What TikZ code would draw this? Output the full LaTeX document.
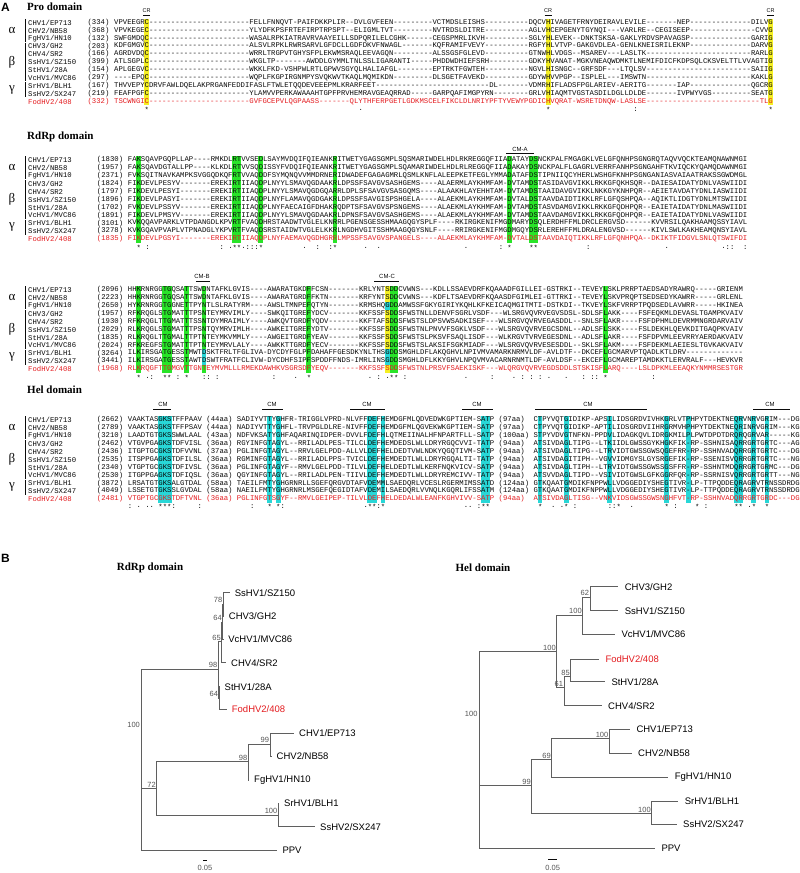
\documentclass[tikz,border=0pt]{standalone}
\usepackage{fontspec}
\setmainfont{Liberation Serif}
\setsansfont{Liberation Sans}
\setmonofont{Liberation Mono}
\ExplSyntaxOn
\cs_new:Npn \dsh #1 { \prg_replicate:nn {#1} {-} }
\ExplSyntaxOff
\definecolor{hlg}{RGB}{40,228,40}
\definecolor{hly}{RGB}{245,240,35}
\definecolor{hlc}{RGB}{40,215,215}
\definecolor{fred}{RGB}{228,28,32}
\definecolor{stx}{RGB}{10,10,10}
\definecolor{trg}{RGB}{95,95,95}
\definecolor{bsg}{RGB}{85,85,85}
\newcommand\seqf{\ttfamily\fontsize{7.27}{8}\selectfont}
\newcommand\chw{4.363}
\newcommand\hlbox[6]{\fill[#1] ({#2+#3*\chw-0.2},#5) rectangle ({#2+(#3+#4)*\chw+0.2},#6);}
\newcommand\arow[7]{%
  \node[seq,text=#7] (#1n) at (28,#2) {#3};
  \node[seqnum,text=#7] (#1k) at ({#5-\chw},#2) {(#4)};
  \node[seq,text=#7] (#1s) at (#5,#2) {#6};}
\newcommand\grk[2]{%
  \node[grk] (#1al) at (12,{#2+7.9}) {α};
  \node[grk] (#1be) at (12,{#2+39.5}) {β};
  \node[grk] (#1ga) at (12,{#2+67.15}) {γ};
  \draw[bar] (25,{#2-3.6}) -- (25,{#2+19.4});
  \draw[bar] (25,{#2+20.1}) -- (25,{#2+58.9});
  \draw[bar] (25,{#2+59.6}) -- (25,{#2+74.7});}
\begin{document}
\begin{tikzpicture}[x=1pt,y=-1pt,
 seq/.style={anchor=west,inner sep=0pt,font=\seqf,text=stx},
 seqnum/.style={anchor=east,inner sep=0pt,font=\seqf,text=stx},
 head/.style={inner sep=0pt,font=\bfseries\fontsize{11}{13}\selectfont},
 panel/.style={anchor=west,inner sep=0pt,font=\sffamily\bfseries\fontsize{12}{14}\selectfont},
 grk/.style={inner sep=0pt,font=\fontsize{13}{13}\selectfont,text=stx},
 bar/.style={draw=stx,line width=0.6pt},
 mot/.style={inner sep=0pt,font=\sffamily\fontsize{6}{7}\selectfont,text=stx},
 oline/.style={draw=stx,line width=0.6pt},
 tree/.style={draw=trg,line width=0.8pt},
 leaf/.style={anchor=west,inner sep=0pt,font=\sffamily\fontsize{9.5}{11}\selectfont,xshift=5pt},
 leafh/.style={anchor=west,inner sep=0pt,font=\sffamily\fontsize{9.5}{11}\selectfont,xshift=6.3pt},
 bs/.style={anchor=south east,inner sep=0.8pt,font=\sffamily\fontsize{7.5}{9}\selectfont,text=bsg}]
\fill[white] (0,0) rectangle (800,873);
\useasboundingbox (0,0) rectangle (800,873);

% ---------------- Panel A ----------------
\node[panel] (pA) at (1,7) {A};
\node[head,anchor=west] (hPro) at (27,7) {Pro domain};
\node[head,anchor=west] (hRd1) at (27,137) {RdRp domain};
\node[head,anchor=west] (hHel) at (27,390) {Hel domain};

% highlights: Pro
\foreach \cc in {7,99,150} {\hlbox{hly}{114}{\cc}{1}{18.55}{105.45}}
% highlights: RdRp 1
\foreach \cc/\nn in {2/1,24/2,30/1,47/1,87/1,92/2} {\hlbox{hlg}{127.7}{\cc}{\nn}{156.05}{242.95}}
% highlights: RdRp 2
\foreach \cc/\nn in {2/1,8/2,13/1,41/1,60/2,109/1} {\hlbox{hlg}{127.7}{\cc}{\nn}{286.05}{372.95}}
\hlbox{hlg}{127.7}{17}{1}{286.05}{349.25}
\hlbox{hlc}{127.7}{17}{1}{349.25}{365.05}
\hlbox{hlg}{127.7}{17}{1}{365.05}{372.95}
\hlbox{hly}{127.7}{59}{1}{286.05}{301.85}
\hlbox{hlc}{127.7}{59}{1}{301.85}{309.75}
\hlbox{hly}{127.7}{59}{1}{309.75}{349.25}
\hlbox{hlc}{127.7}{59}{1}{349.25}{365.05}
\hlbox{hly}{127.7}{59}{1}{365.05}{372.95}
% highlights: Hel
\foreach \cc/\nn in {7/3,32/1,34/1,55/2,58/1,81/2,94/1,100/1,110/1,123/1,128/1,139/2,143/1,146/1} {\hlbox{hlc}{127.7}{\cc}{\nn}{416.05}{502.95}}

% motif labels
\node[mot,font=\sffamily\fontsize{5.5}{6}\selectfont] (cr1) at (146.7,11) {CR};
\draw[oline] (143.3,15) -- (150.3,15);
\node[mot,font=\sffamily\fontsize{5.5}{6}\selectfont] (cr2) at (548.1,11) {CR};
\draw[oline] (544.7,15) -- (551.7,15);
\node[mot,font=\sffamily\fontsize{5.5}{6}\selectfont] (cr3) at (770.6,11) {CR};
\draw[oline] (767.2,15) -- (774.2,15);
\node[mot] (cma) at (520,149) {CM-A};
\draw[oline] (506,153) -- (534,153);
\node[mot] (cmb) at (202,276) {CM-B};
\draw[oline] (196,281) -- (210,281);
\node[mot] (cmc) at (387,276) {CM-C};
\draw[oline] (374,281) -- (399,281);
\node[mot] (cm1) at (163,404) {CM};
\draw[oline] (153,409) -- (171,409);
\node[mot] (cm2) at (272,404) {CM};
\draw[oline] (262,409) -- (283,409);
\node[mot] (cm3) at (367,404) {CM};
\draw[oline] (350,409) -- (385,409);
\node[mot] (cm4) at (477,404) {CM};
\draw[oline] (462,409) -- (493,409);
\node[mot] (cm5) at (588,404) {CM};
\draw[oline] (535,409) -- (647,409);
\node[mot] (cm6) at (770,404) {CM};
\draw[oline] (753,409) -- (790,409);

% greek group labels
\grk{gp}{22.5}
\grk{gr}{160}
\grk{gs}{290}
\grk{gh}{420}

% ---- Pro domain rows
\arow{p0}{22.5}{CHV1/EP713}{334}{114}{VPVEEGRC\dsh{23}FELLFNNQVT-PAIFDKKPLIR--DVLGVFEEN\dsh{9}VCTMDSLEISHS\dsh{10}DQCVHIVAGETFRNYDEIRAVLEVILE\dsh{7}NEP\dsh{14}DILVG}{stx}
\arow{p1}{30.4}{CHV2/NB58}{368}{114}{VPVKEGEC\dsh{23}YLYDFKPSFRTEFIRPTRPSPT--ELIGMLTVT\dsh{9}NVTRDSLDITRE\dsh{10}AGLVHCEPGENYTGYNQI---VARLRE--CEGISEEP\dsh{15}CVVG}{stx}
\arow{p2}{38.3}{FgHV1/HN10}{132}{114}{SWFGMDQC\dsh{23}WASALRPKIATRAVRVAAYEILLSDPQRILELCGHK\dsh{6}CEGSPMRLIKVH\dsh{10}SGLYHLEVEK--DNKTSKSA-GAKLYRDVSPAVAGSP\dsh{14}GARIG}{stx}
\arow{p3}{46.2}{CHV3/GH2}{203}{114}{KDFGMGVC\dsh{23}ALSVLRPKLRWRSARVLGFDCLLGDFDKVFNWAGL\dsh{7}KQFRAMIFVEVY\dsh{10}RGFYHLVTVP-GAKGVDLEA-GENLKNEISRILEKNP\dsh{14}DARVG}{stx}
\arow{p4}{54.1}{CHV4/SR2}{166}{114}{AGRDVDQC\dsh{23}WRRLTRGPVTGHYSFPLEKWMSRAQLEEVAGQN\dsh{9}ALSSGSFGLEVD\dsh{10}GTNWHLVDGS--MSAREV---LASLTK\dsh{24}RARLG}{stx}
\arow{p5}{62.0}{SsHV1/SZ150}{399}{114}{ATLSGPLC\dsh{23}WKGLTP\dsh{7}AWDDLGYMMLTNLSSLIGARANTI\dsh{5}PHDDWDHIEFSRH\dsh{9}GDKYHVANAT-MGKVNEAQWDMKTLNEMIFDICFKDPSQLCKSVELTTLVVAGTIG}{stx}
\arow{p6}{69.9}{StHV1/28A}{154}{114}{APLGEGVC\dsh{23}WKKLFKD-VSHPWLRTLGPWVSGYQLHALIAFGL\dsh{8}EPTRKTFGWTEH\dsh{10}NGVLHISNGC--GRFSDF---LTQLSV\dsh{24}SAIIG}{stx}
\arow{p7}{77.8}{VcHV1/MVC86}{297}{114}{----EPQC\dsh{23}WQPLFKGPIRGNMPYSVQKWVTKAQLMQMIKDN\dsh{9}DLSGETFAVEKD\dsh{10}GDYWHVVPGP--ISPLEL---IMSWTN\dsh{24}KAKLG}{stx}
\arow{p8}{85.7}{SrHV1/BLH1}{167}{114}{THVVEPYCDRVFAWLDQELAKPRGANFEDDIFASLFTWLETQQDEVEEEPMLKRARFEET\dsh{26}DL\dsh{7}VDMRHIFLADSFPGLARIEV-AERITG\dsh{7}IAP\dsh{14}QGCRG}{stx}
\arow{p9}{93.6}{SsHV2/SX247}{219}{114}{FEAFPGFC\dsh{23}YLAMVVPERKAWAAAHTGPFPRVHEMRAVGEAQRRAD\dsh{5}GARPQAFIMGPYRN\dsh{8}GRLVHIAQMTVGSTASDILDGLLDLDE\dsh{7}IVPWYVGS\dsh{9}SEATG}{stx}
\arow{p10}{101.5}{FodHV2/408}{332}{114}{TSCWNGIC\dsh{23}GVFGCEPVLQGPAASS\dsh{7}QLYTHFERPGETLGDKMSCELFIKCLDLNRIYPFTYVEWYPGDICHVQRAT-WSRETDNQW-LASLSE\dsh{26}TLG}{fred}
\foreach \ii/\cc in {7/*,56/.,99/*,119/:,150/*} {\node[seq] (pc\ii) at ({114+\ii*\chw},110) {\cc};}

% ---- RdRp block 1
\arow{r0}{160}{CHV1/EP713}{1830}{127.7}{FAKSQAVPGQPLLAP----RMKDLRTVVSEDLSAYMVDQIFQIEANKRITWETYGAGSGMPLSQSMARIWDELHDLRKREGGQFIIADATAYDSNCKPALFMGAGKLVELGFQNHPSGNGRQTAQVVQCKTEAMQNAWNMGI}{stx}
\arow{r1}{167.9}{CHV2/NB58}{1957}{127.7}{FAKSQAVDGTALLPP----KLKDLRTVVSQDISSYFVDQIFQIEANKRITWETYGAGSGMPLSQAMARIWDELHDLRLREGGQFIIADAKAYDSNCKPALFLGAGRLVERRFANHPSGNGAHFTKVIQCKYQAMQDAWNMGI}{stx}
\arow{r2}{175.8}{FgHV1/HN10}{2371}{127.7}{FVKSQITNAVKAMPKSVGGQDKQFRTVVAQDDFSYMQNQVVMMDRNERIDWADEFGAGAGMRLQSMLKNFLALEEPKETFEGLYMMADATAFDSTIPNIIQCYHERLWSHGFKNHPSGNGANIASVAIAATRAKSSGWDMGL}{stx}
\arow{r3}{183.7}{CHV3/GH2}{1824}{127.7}{FIKDEVLPESYV-------EREKIRTIIAQDPLNYYLSMAVQGDAAKRLDPSSFSAVGVSASHGEMS----ALAERMLAYKHMFAM-DVTAMDSTASIDAVGVIKKLRKKGFQKHSQR--DAIESAIDATYDNLVASWIIDI}{stx}
\arow{r4}{191.6}{CHV4/SR2}{1797}{127.7}{FIKDEVLPESYI-------EREKIRTIIAQDPLNYYLSMAVQGDGQARRLDPLSFSAVGVSASGQMS----ALAAKHLAYEHHTAM-DVTAMDSTAAIDAVGVIKKLNKKGYKNHPQR--AEIETAVDATYDNLIASWIIDI}{stx}
\arow{r5}{199.5}{SsHV1/SZ150}{1896}{127.7}{FIKDEVLPASYI-------EREKIRTIIAQDPLNYFLAMAVQGDGAKRLDPSSFSAVGISPSHGELA----ALAEKMLAYKHMFAM-DVTALDSTAAVDAIDTIKKLRFLGFQSHPQA--AQIKTLIDGTYDNLMTSWIIDI}{stx}
\arow{r6}{207.4}{StHV1/28A}{1702}{127.7}{FVKDEVLPSSYV-------EREKIRTIIAQDPLNYFAECAIGFDHAKRQDPTSFSAVGVSPSNGEMS----ALAEKMLAYKHMFAM-DVTAMDSTASVDAMGVIKKLRKKGFQDHPQR--EAIETAIDATYDNLMASWIIDI}{stx}
\arow{r7}{215.3}{VcHV1/MVC86}{1891}{127.7}{FIKDEVLPMSYV-------EREKIRTIIAQDPLNYYLSMAVQGDAAKRLDPNSFSAVGVSASHGEMS----ALAEKMLAYKHMFAM-DVTAMDSTAAVDAMGVIKKLRKKGFQDHPQR--EAIETAIDATYDNLVASWIIDI}{stx}
\arow{r8}{223.2}{SrHV1/BLH1}{3101}{127.7}{KVKQQAVPARKLVTPDANGDLKPVRTFVAQDHRSTAADWTVGLELKNRRLPGENSGESSHMAAGQGYSPLF----RKIRGKENIFMGDMARYDSQLERDHFFMLDRCLERGVSD------KVVRSILQAKHAAMQSSYIAVL}{stx}
\arow{r9}{231.1}{SsHV2/SX247}{3278}{127.7}{KVKGQAVPVAPLVTPNADGLYKPVRTFVAQDSRSTAIDWTVGLELKKRLNGDHVGITSSHMAAGQGYSNLF----RRIRGKENIFMGDMGQYDSRLEREHFFMLDRALENGVSD------KIVLSWLKAKHEAMQNSYIAVL}{stx}
\arow{r10}{239}{FodHV2/408}{1835}{127.7}{FIKDEVLPGSYI-------EREKIRTIIAQDPLNYFAEMAVQGDHGRRLMPSSFSAVGVSPANGELS----ALAEKMLAYKHMFAM-DVTALDSTAAVDAIQTIKKLRFLGFQNHPQA--DKIKTFIDGVLSNLQTSWIFDI}{fred}
\foreach \ii/\cc in {2/*,4/:,21/:,23/.,24/*,25/*,26/.,27/:,28/:,29/:,30/*,40/.,43/:,46/:,47/*,54/.,57/.,77/.,85/:,87/*,92/*,93/*,105/:,123/.,136/.,137/:,138/:,141/:} {\node[seq] (rc\ii) at ({127.7+\ii*\chw},248) {\cc};}

% ---- RdRp block 2
\arow{s0}{290}{CHV1/EP713}{2096}{127.7}{HHKRNRGGTGQSATTSWDNTAFKLGVIS----AWARATGKDFFCSN\dsh{7}KRLYNTSDDCVWNS---KDLLSSAEVDRFKQAAADFGILLEI-GSTRKI--TEVEYLSKLPRRPTAEDSADYRAWRQ-----GRIENM}{stx}
\arow{s1}{297.9}{CHV2/NB58}{2223}{127.7}{HHKRNRGGTGQSATTSWDNTAFKLGVIS----AWARATGRDFFKTN\dsh{7}KRFYNTSDDCVWNS---KDFLTSAEVDRFKQAASDFGIMLEI-GTTRKI--TEVEYLSKVPRQPTSEDSEDYKAWRR-----GRLENL}{stx}
\arow{s2}{305.8}{FgHV1/HN10}{2650}{127.7}{HYKRNRGGTGGNETTPYNTLSLRATYRM----AWSLTMNPEFQTYN\dsh{7}KRMSHQGDDAMWSSFGKYGIRIYKQHLKFKEICAQMGITMTI-DSTKDI--TKVEYLSKFVRRPTPQDSEDLAVWRR-----HKINEA}{stx}
\arow{s3}{313.7}{CHV3/GH2}{1957}{127.7}{RFKRQGLSTGMATTTPSNTEYMRVIMLY----SWKQITGREFYDCV\dsh{7}KKFSSFSDDSFWSTNLLDENVFSGRLVSDF---WLSRGVQVRVEGVSDSL-SDLSFLAKK----FSFEQKMLDEVASLTGAMPKVAIV}{stx}
\arow{s4}{321.6}{CHV4/SR2}{1930}{127.7}{RFKRQGLTTGMATTTSSNTDYMRAIMLY----AWKQVTGRDFYQDV\dsh{7}KKFTAFSDDSFWSTSLDPSVWSADKISEF---WLSRGVQVRVEGASDDL--SNLSFLAKR----FSFDPHMLDEVRMMNGRDARVAIV}{stx}
\arow{s5}{329.5}{SsHV1/SZ150}{2029}{127.7}{RLKRQGLSTGMATTTPSNTQYMRVIMLH----AWKEITGREFYDTV\dsh{7}KKFSSFSDDSFWSTNLPNVVFSGKLVSDF---WLSRGVQVRVEGCSDNL--ADLSFLSKK----FSLDEKHLQEVKDITGAQPKVAIV}{stx}
\arow{s6}{337.4}{StHV1/28A}{1835}{127.7}{RLKRQGLTTGMALTTPTNTEYMKVMMLY----AWGEITGRDFYEAV\dsh{7}KKFSSFSDDSFWSTSLPKSVFSAQLISDF---WLKRGVTVRVEGESDNL--ADLSFLAKR----FSFDPVMLEEVRRYAERDAKVAIV}{stx}
\arow{s7}{345.3}{VcHV1/MVC86}{2024}{127.7}{RFKREGFSTGMATTTPTNTEYMRVLALY----AWKKTTGRDFYECV\dsh{7}KKFSSFSDDSFWSTSLAKSIFSGKMIADF---WLSRGVQVRVESESDDL--SKLSFLAKM----FSFDEKMLAEIESLTGVKAKVAIV}{stx}
\arow{s8}{353.2}{SrHV1/BLH1}{3264}{127.7}{ILKIRSGATGESSTMWTDSKTFRLTFGLIVA-DYCDYFGLPFDAHAFFGESDKYNLTHSGDDSMGHLDFLAKQGHVLNPIVMVAMARKNRMVLDF-AVLDTF--DKCEFLGCMARVPTQADLKTLDRV\dsh{13}}{stx}
\arow{s9}{361.1}{SsHV2/SX247}{3441}{127.7}{ILKIRSGATGESSTAWTDSWTFRATFCLIVW-DYCDHFSIPFSPDDFFNDS-IMRLINSGDDSMGHLDFLKKYGHVLNPQVMVACARNRNMTLDF-AVLDSF--EKCEFLGCMAREPTAMDKKTLERVRALF---HEVKVR}{stx}
\arow{s10}{369}{FodHV2/408}{1968}{127.7}{RLKRQGFTTGMGVTTGNTEYMVMLLLRMEKDAWHKVSGRSDFYEQV\dsh{7}KKFSSFSDDSFWSTNLPRSVFSAEKISKF---WLQRGVQVRVEGDSDDLSTSKISFLARQ----LSLDPKMLEEAQKYNMMRSESTGR}{fred}
\foreach \ii/\cc in {2/*,4/.,5/:,8/*,9/*,11/:,13/*,17/:,18/:,20/:,33/:,38/.,41/*,55/.,57/:,59/.,60/*,61/*,63/:,77/.,83/:,88/.,90/:,92/:,94/:,96/.,100/.,104/:,106/:,107/:,109/*,120/:} {\node[seq] (sc\ii) at ({127.7+\ii*\chw},377.5) {\cc};}

% ---- Hel domain
\arow{h0}{420}{CHV1/EP713}{2662}{127.7}{VAAKTASGKSTFFPAAV~(44aa)~SADIYVTTYGHFR-TRIGGLVPRD-NLVFFDEFHEMDGFMLQDVEDWKGPTIEM-SATP~(97aa)~~CTPYVQTGIDIKP-APSILIDSGRDVIVHKGRLVTPHPYTDEKTNEQRVNRVGRIM---DG}{stx}
\arow{h1}{427.9}{CHV2/NB58}{2789}{127.7}{VAAKTASGKSTFFPSAV~(44aa)~NADIYVTTYGHFL-TRVPGLDLRE-NIVFFDEFHEMDGFMLQGVEKWKGPTIEM-SATP~(97aa)~~CTPYVQTGIDIKP-APTILIDSGRDVIIHRGRMVHPHPYTDEKTNEQRINRVGRIM---KG}{stx}
\arow{h2}{435.8}{FgHV1/HN10}{3210}{127.7}{LAADTGTGKSSWWLAAL~(43aa)~NDFVKSATYGHFAQARINQIDPER-DVVLFDEFHLQTMEIINALHFNPARTFLL-SATP~(100aa)~STPYVDVGTNFKN-PPDVLIDAGKQVLIDRGKMILPLPWTDPDTDRQRQGRVAR-----KG}{stx}
\arow{h3}{443.7}{CHV3/GH2}{2462}{127.7}{VTGVPGAGKSTDFVISL~(36aa)~RGYINFGTAGYL--RRILADLPES-TILCLDEFHEMDEDSLWLLDRYRGQCVVI-TATP~(94aa)~~ATSIVDAGLTIPG--LTKIIDLGWSSGYKHGKFIK-RP-SSHNISAQRRGRTGRTC---AG}{stx}
\arow{h4}{451.6}{CHV4/SR2}{2436}{127.7}{ITGPTGCGKSTDFVVNL~(37aa)~PGLINFGTAGYL--RRVLGELPDD-ALLVLDEFHELDEDTVWLNDKYQGQTIVM-SATP~(94aa)~~ATSIVDAGLTIPG--LTRVIDTGWSSGWSQGEFRR-RP-SSHNVADQRRGRTGRTC---DG}{stx}
\arow{h5}{459.5}{SsHV1/SZ150}{2535}{127.7}{ITSPPGAGKSTDFILSL~(36aa)~RGMINFGTAGYL--RRILADLPPS-TVICLDEFHEMDEDTLWLLDRYRGQALTI-TATP~(94aa)~~ATSIVDAGITIPH--VGVVIDMGYSLGYSRGEFIK-RP-SSENISVQRRGRTGRTC---NG}{stx}
\arow{h6}{467.4}{StHV1/28A}{2340}{127.7}{VTGPTGCGKSTDFIVSL~(36aa)~PGLINFGTAGYF--RMVLGELPDD-TILVLDEFHELDEDTLWLKERFNQKVICV-SATP~(94aa)~~ATSIVDAGLTIPH--LTRVIDTGWSSGWSSGSFFR-RP-SSHNTMDQRRGRTGRMC---DG}{stx}
\arow{h7}{475.3}{VcHV1/MVC86}{2530}{127.7}{ITGPPGAGKSTDFIQSL~(36aa)~QGYINFGTAGYL--RRILADLPEN-TIIVLDEFHEMDEDTLWLLDRYREMCIVV-TATP~(94aa)~~ATSVVDAGLTIPD--VSIVIDTGWSLGFKGGRFQR-RP-SSRNISVQRRGRTGRTT---NG}{stx}
\arow{h8}{483.2}{SrHV1/BLH1}{3872}{127.7}{LRSATGTGKSALGTDAL~(58aa)~TAEILFMTYGHGRNRLLSGEFQRGVDTAFVDEMMLSAEDQRLVCESLRGERMIMSSATD~(124aa)~GTKQAATGMDIKFNPPWLLVDGGEDIYSHEGTIVR-LP-TTPQDDEQRAGRVTRNSSDRDG}{stx}
\arow{h9}{491.1}{SsHV2/SX247}{4049}{127.7}{LSSETGTGKSSLGVDAL~(58aa)~NAEILFMTYGHGRNRLMSGEFQEGIDTAFVDEMILSAEDQRLVVNQLKGQRLIFSSATM~(124aa)~GTKQAATGMDIKFNPPWLLVDGGEDIYSHEGTIVR-LP-TTPQDDEQRAGRVTRNSSDRDG}{stx}
\arow{h10}{499}{FodHV2/408}{2481}{127.7}{VTGPTGCGKSTDFTVNL~(36aa)~PGLINFGTSGYF--RMVLGEIPEP-TILVLDEFHELDEDALWLEANFKGHVIVV-SATP~(94aa)~~ATSIVDAGLTISG--VNKVIDSGWSSGWSNGHFVT-RP-SSHNVADQRRGRTGRDC---DG}{fred}
\foreach \ii/\cc in {0/:,2/.,4/.,5/.,7/*,8/*,9/*,10/:,16/:,28/:,32/*,34/*,35/:,54/.,55/*,56/*,57/:,58/*,77/.,78/.,80/:,81/*,82/*,94/*,97/.,99/.,100/*,102/:,110/:,111/:,112/*,115/.,123/*,125/:,130/*,132/:,139/*,140/*,142/.,143/*,146/*} {\node[seq] (hc\ii) at ({127.7+\ii*\chw},507) {\cc};}

% ---------------- Panel B ----------------
\node[panel] (pB) at (1,558) {B};
\node[head] (tRd) at (150,568) {RdRp domain};
\node[head] (tHe) at (483,568) {Hel domain};

% RdRp tree
\coordinate (rR) at (141.7,725);
\coordinate (r98) at (218.3,669);
\coordinate (r65) at (221.7,641.7);
\coordinate (r64a) at (222.7,622);
\coordinate (r78) at (223.2,604);
\coordinate (r64b) at (219,698);
\coordinate (r72) at (156.7,788.3);
\coordinate (r98b) at (248.3,761.7);
\coordinate (r99) at (270,744);
\coordinate (r100) at (278.3,815);
\coordinate (tSs1) at (229.7,592.7);
\coordinate (tCh3) at (223.7,616);
\coordinate (tVc) at (223.2,639.3);
\coordinate (tCh4) at (226,662.7);
\coordinate (tSt) at (219.5,686.7);
\coordinate (tFod) at (226.7,709.3);
\coordinate (tCh1) at (294,733.3);
\coordinate (tCh2) at (271.5,756);
\coordinate (tFg) at (249,780);
\coordinate (tSr) at (279,803.3);
\coordinate (tSs2) at (315,826.7);
\coordinate (tPPV) at (277.3,850);
\draw[tree] (rR) |- (r98);
\draw[tree] (rR) |- (r72);
\draw[tree] (rR) |- (tPPV);
\draw[tree] (r98) |- (r65);
\draw[tree] (r98) |- (r64b);
\draw[tree] (r65) |- (r64a);
\draw[tree] (r65) |- (tCh4);
\draw[tree] (r64a) |- (r78);
\draw[tree] (r64a) |- (tVc);
\draw[tree] (r78) |- (tSs1);
\draw[tree] (r78) |- (tCh3);
\draw[tree] (r64b) |- (tSt);
\draw[tree] (r64b) |- (tFod);
\draw[tree] (r72) |- (r98b);
\draw[tree] (r72) |- (r100);
\draw[tree] (r98b) |- (r99);
\draw[tree] (r98b) |- (tFg);
\draw[tree] (r99) |- (tCh1);
\draw[tree] (r99) |- (tCh2);
\draw[tree] (r100) |- (tSr);
\draw[tree] (r100) |- (tSs2);
\node[leaf] (lSs1) at (tSs1) {SsHV1/SZ150};
\node[leaf] (lCh3) at (tCh3) {CHV3/GH2};
\node[leaf] (lVc) at (tVc) {VcHV1/MVC86};
\node[leaf] (lCh4) at (tCh4) {CHV4/SR2};
\node[leaf] (lSt) at (tSt) {StHV1/28A};
\node[leaf,text=fred] (lFod) at (tFod) {FodHV2/408};
\node[leaf] (lCh1) at (tCh1) {CHV1/EP713};
\node[leaf] (lCh2) at (tCh2) {CHV2/NB58};
\node[leaf] (lFg) at (tFg) {FgHV1/HN10};
\node[leaf] (lSr) at (tSr) {SrHV1/BLH1};
\node[leaf] (lSs2) at (tSs2) {SsHV2/SX247};
\node[leaf] (lPPV) at (tPPV) {PPV};
\node[bs,anchor=east,xshift=-0.8pt] (brR) at (rR) {100};
\node[bs] (br98) at (r98) {98};
\node[bs] (br65) at (r65) {65};
\node[bs] (br64a) at (r64a) {64};
\node[bs] (br78) at (r78) {78};
\node[bs] (br64b) at (r64b) {64};
\node[bs] (br72) at (r72) {72};
\node[bs] (br98b) at (r98b) {98};
\node[bs] (br99) at (r99) {99};
\node[bs] (br100) at (r100) {100};
\coordinate (sbR1) at (203.3,860);
\coordinate (sbR2) at (206.7,860);
\draw[draw=stx,line width=0.9pt] (sbR1) -- (sbR2);
\node[bs,anchor=center] (sbRl) at (205,868) {0.05};

% Hel tree
\coordinate (hR) at (479.3,714.3);
\coordinate (h100a) at (556.7,651.7);
\coordinate (h100b) at (582.7,615);
\coordinate (h62) at (590,597);
\coordinate (h61) at (564,687.7);
\coordinate (h85) at (570.7,676.7);
\coordinate (h99) at (531.7,785.7);
\coordinate (h69) at (551.7,759.3);
\coordinate (h100c) at (609.3,738.3);
\coordinate (h100d) at (651.7,813.3);
\coordinate (uCh3) at (618.3,586.7);
\coordinate (uSs1) at (618.3,610.7);
\coordinate (uVc) at (615,634.3);
\coordinate (uFod) at (599,659);
\coordinate (uSt) at (605,681.7);
\coordinate (uCh4) at (601.7,705.7);
\coordinate (uCh1) at (630,729.3);
\coordinate (uCh2) at (631.7,753.3);
\coordinate (uFg) at (668.3,777.3);
\coordinate (uSr) at (678.3,801);
\coordinate (uSs2) at (676.7,824.3);
\coordinate (uPPV) at (655,848.3);
\draw[tree] (hR) |- (h100a);
\draw[tree] (hR) |- (h99);
\draw[tree] (hR) |- (uPPV);
\draw[tree] (h100a) |- (h100b);
\draw[tree] (h100a) |- (h61);
\draw[tree] (h100b) |- (h62);
\draw[tree] (h100b) |- (uVc);
\draw[tree] (h62) |- (uCh3);
\draw[tree] (h62) |- (uSs1);
\draw[tree] (h61) |- (h85);
\draw[tree] (h61) |- (uCh4);
\draw[tree] (h85) |- (uFod);
\draw[tree] (h85) |- (uSt);
\draw[tree] (h99) |- (h69);
\draw[tree] (h99) |- (h100d);
\draw[tree] (h69) |- (h100c);
\draw[tree] (h69) |- (uFg);
\draw[tree] (h100c) |- (uCh1);
\draw[tree] (h100c) |- (uCh2);
\draw[tree] (h100d) |- (uSr);
\draw[tree] (h100d) |- (uSs2);
\node[leafh] (mCh3) at (uCh3) {CHV3/GH2};
\node[leafh] (mSs1) at (uSs1) {SsHV1/SZ150};
\node[leafh] (mVc) at (uVc) {VcHV1/MVC86};
\node[leafh,text=fred] (mFod) at (uFod) {FodHV2/408};
\node[leafh] (mSt) at (uSt) {StHV1/28A};
\node[leafh] (mCh4) at (uCh4) {CHV4/SR2};
\node[leafh] (mCh1) at (uCh1) {CHV1/EP713};
\node[leafh] (mCh2) at (uCh2) {CHV2/NB58};
\node[leafh] (mFg) at (uFg) {FgHV1/HN10};
\node[leafh] (mSr) at (uSr) {SrHV1/BLH1};
\node[leafh] (mSs2) at (uSs2) {SsHV2/SX247};
\node[leafh] (mPPV) at (uPPV) {PPV};
\node[bs,anchor=east,xshift=-0.8pt] (bhR) at (hR) {100};
\node[bs] (bh100a) at (h100a) {100};
\node[bs] (bh100b) at (h100b) {100};
\node[bs] (bh62) at (h62) {62};
\node[bs] (bh61) at (h61) {61};
\node[bs] (bh85) at (h85) {85};
\node[bs] (bh99) at (h99) {99};
\node[bs] (bh69) at (h69) {69};
\node[bs] (bh100c) at (h100c) {100};
\node[bs] (bh100d) at (h100d) {100};
\coordinate (sbH1) at (548.3,859);
\coordinate (sbH2) at (556.7,859);
\draw[draw=stx,line width=0.9pt] (sbH1) -- (sbH2);
\node[bs,anchor=center] (sbHl) at (552.7,868) {0.05};
\end{tikzpicture}
\end{document}
